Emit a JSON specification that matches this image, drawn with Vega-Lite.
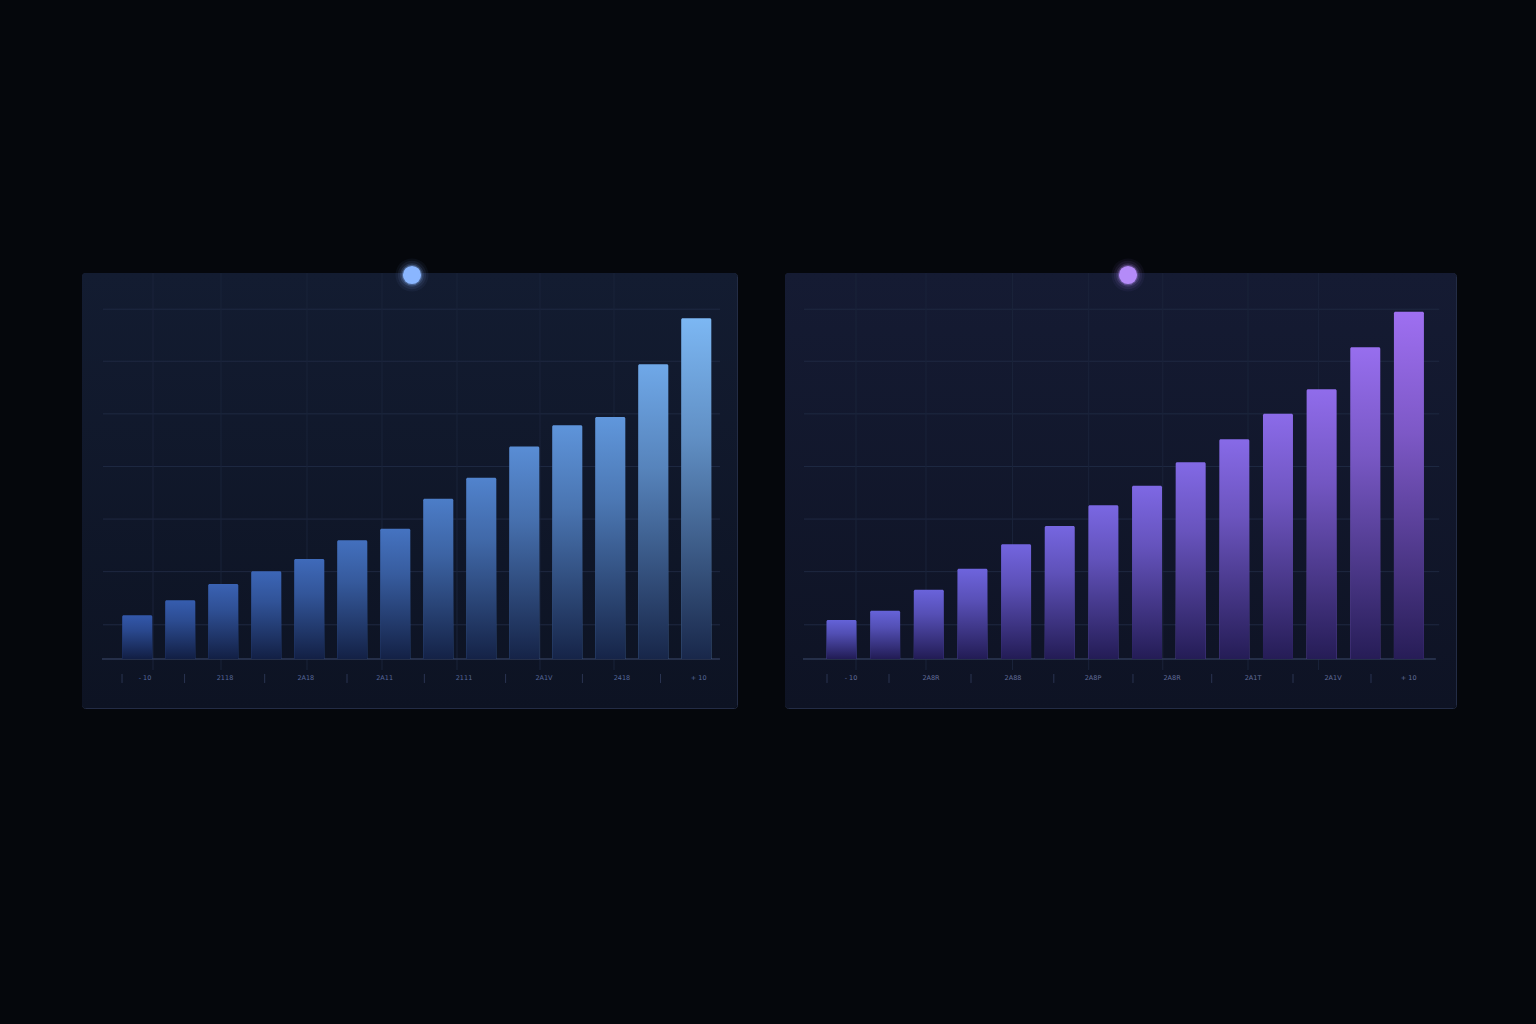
{
  "$schema": "https://vega.github.io/schema/vega-lite/v6.json",
  "background": "#05070c",
  "padding": {"left": 81, "top": 257, "right": 80, "bottom": 315},
  "spacing": 46,
  "resolve": {"scale": {"color": "independent", "x": "independent"}},
  "config": {"view": {"stroke": "#232c45", "strokeWidth": 1, "cornerRadius": 3}},
  "datasets": {
    "leftBars": [
      {"i": 1, "v": 8.31}, {"i": 2, "v": 11.16}, {"i": 3, "v": 14.26}, {"i": 4, "v": 16.67},
      {"i": 5, "v": 19.01}, {"i": 6, "v": 22.57}, {"i": 7, "v": 24.77}, {"i": 8, "v": 30.48},
      {"i": 9, "v": 34.46}, {"i": 10, "v": 40.4}, {"i": 11, "v": 44.43}, {"i": 12, "v": 46.01},
      {"i": 13, "v": 56.03}, {"i": 14, "v": 64.77}
    ],
    "rightBars": [
      {"i": 1, "v": 7.41}, {"i": 2, "v": 9.18}, {"i": 3, "v": 13.17}, {"i": 4, "v": 17.17},
      {"i": 5, "v": 21.81}, {"i": 6, "v": 25.29}, {"i": 7, "v": 29.22}, {"i": 8, "v": 32.95},
      {"i": 9, "v": 37.4}, {"i": 10, "v": 41.77}, {"i": 11, "v": 46.63}, {"i": 12, "v": 51.27},
      {"i": 13, "v": 59.26}, {"i": 14, "v": 66.03}
    ],
    "hGrid": [{"g": 6.5}, {"g": 16.6}, {"g": 26.6}, {"g": 36.6}, {"g": 46.6}, {"g": 56.6}, {"g": 66.5}],
    "leftV": [{"p": 10.84}, {"p": 21.22}, {"p": 34.35}, {"p": 45.8}, {"p": 57.25}, {"p": 69.92}, {"p": 81.22}],
    "rightV": [{"p": 10.58}, {"p": 21.01}, {"p": 33.9}, {"p": 45.26}, {"p": 56.3}, {"p": 69.0}, {"p": 79.5}],
    "leftSeps": [{"p": 6.11}, {"p": 15.66}, {"p": 27.89}, {"p": 40.46}, {"p": 52.27}, {"p": 64.67}, {"p": 76.4}, {"p": 88.32}],
    "rightSeps": [{"p": 6.26}, {"p": 15.5}, {"p": 27.72}, {"p": 40.06}, {"p": 51.86}, {"p": 63.59}, {"p": 75.71}, {"p": 87.33}],
    "leftLabels": [
      {"p": 9.62, "t": "- 10"}, {"p": 21.83, "t": "2118"}, {"p": 34.17, "t": "2A18"}, {"p": 46.2, "t": "2A11"},
      {"p": 58.32, "t": "2111"}, {"p": 70.53, "t": "2A1V"}, {"p": 82.44, "t": "2418"}, {"p": 94.15, "t": "+ 10"}
    ],
    "rightLabels": [
      {"p": 9.84, "t": "- 10"}, {"p": 21.76, "t": "2A8R"}, {"p": 33.98, "t": "2A88"}, {"p": 45.9, "t": "2A8P"},
      {"p": 57.68, "t": "2A8R"}, {"p": 69.75, "t": "2A1T"}, {"p": 81.67, "t": "2A1V"}, {"p": 92.95, "t": "+ 10"}
    ]
  },
  "hconcat": [
    {
      "width": 655,
      "height": 435,
      "resolve": {"scale": {"x": "independent"}},
      "layer": [
        {
          "data": {"values": [{"k": "panel"}]},
          "mark": {"type": "rect", "cornerRadius": 3, "color": {"gradient": "linear", "x1": 0, "y1": 0, "x2": 0, "y2": 1, "stops": [{"offset": 0, "color": "#131c31"}, {"offset": 1, "color": "#0d1323"}]}},
          "encoding": {
            "x": {"datum": 0, "type": "quantitative", "scale": {"domain": [0, 100]}, "axis": null},
            "x2": {"datum": 100},
            "y": {"datum": -9.32, "type": "quantitative", "scale": {"domain": [-9.32, 73.38], "nice": false, "zero": false}, "axis": null},
            "y2": {"datum": 73.38}
          }
        },
        {
          "data": {"name": "hGrid"},
          "mark": {"type": "rule", "color": "#1f2942", "strokeWidth": 1},
          "encoding": {
            "x": {"datum": 3.2, "type": "quantitative", "scale": {"domain": [0, 100]}, "axis": null},
            "x2": {"datum": 97.4},
            "y": {"field": "g", "type": "quantitative", "scale": {"domain": [-9.32, 73.38], "nice": false, "zero": false}, "axis": null}
          }
        },
        {
          "data": {"name": "leftV"},
          "mark": {"type": "rule", "color": "#1a233a", "strokeWidth": 1},
          "encoding": {
            "x": {"field": "p", "type": "quantitative", "scale": {"domain": [0, 100]}, "axis": null},
            "y": {"datum": -2.1, "type": "quantitative", "scale": {"domain": [-9.32, 73.38], "nice": false, "zero": false}, "axis": null},
            "y2": {"datum": 73.38}
          }
        },
        {
          "data": {"values": [{"k": "base"}]},
          "mark": {"type": "rule", "color": "#2e3856", "strokeWidth": 1.5},
          "encoding": {
            "x": {"datum": 3.05, "type": "quantitative", "scale": {"domain": [0, 100]}, "axis": null},
            "x2": {"datum": 97.4},
            "y": {"datum": 0, "type": "quantitative", "scale": {"domain": [-9.32, 73.38], "nice": false, "zero": false}, "axis": null}
          }
        },
        {
          "data": {"name": "leftSeps"},
          "mark": {"type": "rule", "color": "#2a3452", "strokeWidth": 1},
          "encoding": {
            "x": {"field": "p", "type": "quantitative", "scale": {"domain": [0, 100]}, "axis": null},
            "y": {"datum": -2.85, "type": "quantitative", "scale": {"domain": [-9.32, 73.38], "nice": false, "zero": false}, "axis": null},
            "y2": {"datum": -4.56}
          }
        },
        {
          "data": {"name": "leftLabels"},
          "mark": {"type": "text", "font": "DejaVu Sans", "fontSize": 6.5, "color": "#56679a", "baseline": "middle", "align": "center"},
          "encoding": {
            "x": {"field": "p", "type": "quantitative", "scale": {"domain": [0, 100]}, "axis": null},
            "y": {"datum": -3.61, "type": "quantitative", "scale": {"domain": [-9.32, 73.38], "nice": false, "zero": false}, "axis": null},
            "text": {"field": "t"}
          }
        },
        {
          "data": {"name": "leftBars"},
          "mark": {"type": "bar", "cornerRadiusTopLeft": 1.5, "cornerRadiusTopRight": 1.5},
          "encoding": {
            "x": {"field": "i", "type": "ordinal", "scale": {"paddingInner": 0.3, "paddingOuter": 0.766, "align": 0.61}, "axis": null},
            "y": {"field": "v", "type": "quantitative", "scale": {"domain": [-9.32, 73.38], "nice": false, "zero": false}, "axis": null},
            "y2": {"datum": 0},
            "color": {"field": "v", "type": "quantitative", "scale": {"domain": [8, 65], "range": ["#3358ab", "#7cb7f3"]}, "legend": null}
          }
        },
        {
          "data": {"name": "leftBars"},
          "mark": {"type": "bar", "cornerRadiusTopLeft": 1.5, "cornerRadiusTopRight": 1.5, "color": {"gradient": "linear", "x1": 0, "y1": 0, "x2": 0, "y2": 1, "stops": [{"offset": 0, "color": "rgba(14,24,56,0)"}, {"offset": 0.35, "color": "rgba(14,24,56,0.25)"}, {"offset": 0.7, "color": "rgba(14,24,56,0.6)"}, {"offset": 1, "color": "rgba(14,24,56,0.9)"}]}},
          "encoding": {
            "x": {"field": "i", "type": "ordinal", "scale": {"paddingInner": 0.3, "paddingOuter": 0.766, "align": 0.61}, "axis": null},
            "y": {"field": "v", "type": "quantitative", "scale": {"domain": [-9.32, 73.38], "nice": false, "zero": false}, "axis": null},
            "y2": {"datum": 0}
          }
        },
        {
          "data": {"values": [{"p": 50.38, "s": 1100, "o": 0.05}, {"p": 50.38, "s": 800, "o": 0.08}, {"p": 50.38, "s": 560, "o": 0.14}, {"p": 50.38, "s": 420, "o": 0.3}, {"p": 50.38, "s": 330, "o": 1}]},
          "mark": {"type": "point", "filled": true, "shape": "circle", "color": "#8ab6ff"},
          "encoding": {
            "x": {"field": "p", "type": "quantitative", "scale": {"domain": [0, 100]}, "axis": null},
            "y": {"datum": 73.0, "type": "quantitative", "scale": {"domain": [-9.32, 73.38], "nice": false, "zero": false}, "axis": null},
            "size": {"field": "s", "type": "quantitative", "scale": null, "legend": null},
            "opacity": {"field": "o", "type": "quantitative", "scale": null, "legend": null}
          }
        }
      ]
    },
    {
      "width": 671,
      "height": 435,
      "resolve": {"scale": {"x": "independent"}},
      "layer": [
        {
          "data": {"values": [{"k": "panel"}]},
          "mark": {"type": "rect", "cornerRadius": 3, "color": {"gradient": "linear", "x1": 0, "y1": 0, "x2": 0, "y2": 1, "stops": [{"offset": 0, "color": "#151b33"}, {"offset": 1, "color": "#0e1324"}]}},
          "encoding": {
            "x": {"datum": 0, "type": "quantitative", "scale": {"domain": [0, 100]}, "axis": null},
            "x2": {"datum": 100},
            "y": {"datum": -9.32, "type": "quantitative", "scale": {"domain": [-9.32, 73.38], "nice": false, "zero": false}, "axis": null},
            "y2": {"datum": 73.38}
          }
        },
        {
          "data": {"name": "hGrid"},
          "mark": {"type": "rule", "color": "#1f2942", "strokeWidth": 1},
          "encoding": {
            "x": {"datum": 2.83, "type": "quantitative", "scale": {"domain": [0, 100]}, "axis": null},
            "x2": {"datum": 97.5},
            "y": {"field": "g", "type": "quantitative", "scale": {"domain": [-9.32, 73.38], "nice": false, "zero": false}, "axis": null}
          }
        },
        {
          "data": {"name": "rightV"},
          "mark": {"type": "rule", "color": "#1a233a", "strokeWidth": 1},
          "encoding": {
            "x": {"field": "p", "type": "quantitative", "scale": {"domain": [0, 100]}, "axis": null},
            "y": {"datum": -2.1, "type": "quantitative", "scale": {"domain": [-9.32, 73.38], "nice": false, "zero": false}, "axis": null},
            "y2": {"datum": 73.38}
          }
        },
        {
          "data": {"values": [{"k": "base"}]},
          "mark": {"type": "rule", "color": "#2e3856", "strokeWidth": 1.5},
          "encoding": {
            "x": {"datum": 2.68, "type": "quantitative", "scale": {"domain": [0, 100]}, "axis": null},
            "x2": {"datum": 97.0},
            "y": {"datum": 0, "type": "quantitative", "scale": {"domain": [-9.32, 73.38], "nice": false, "zero": false}, "axis": null}
          }
        },
        {
          "data": {"name": "rightSeps"},
          "mark": {"type": "rule", "color": "#2a3452", "strokeWidth": 1},
          "encoding": {
            "x": {"field": "p", "type": "quantitative", "scale": {"domain": [0, 100]}, "axis": null},
            "y": {"datum": -2.85, "type": "quantitative", "scale": {"domain": [-9.32, 73.38], "nice": false, "zero": false}, "axis": null},
            "y2": {"datum": -4.56}
          }
        },
        {
          "data": {"name": "rightLabels"},
          "mark": {"type": "text", "font": "DejaVu Sans", "fontSize": 6.5, "color": "#626d9a", "baseline": "middle", "align": "center"},
          "encoding": {
            "x": {"field": "p", "type": "quantitative", "scale": {"domain": [0, 100]}, "axis": null},
            "y": {"datum": -3.61, "type": "quantitative", "scale": {"domain": [-9.32, 73.38], "nice": false, "zero": false}, "axis": null},
            "text": {"field": "t"}
          }
        },
        {
          "data": {"name": "rightBars"},
          "mark": {"type": "bar", "cornerRadiusTopLeft": 1.5, "cornerRadiusTopRight": 1.5},
          "encoding": {
            "x": {"field": "i", "type": "ordinal", "scale": {"paddingInner": 0.313, "paddingOuter": 0.843, "align": 0.564}, "axis": null},
            "y": {"field": "v", "type": "quantitative", "scale": {"domain": [-9.32, 73.38], "nice": false, "zero": false}, "axis": null},
            "y2": {"datum": 0},
            "color": {"field": "v", "type": "quantitative", "scale": {"domain": [7, 66], "range": ["#6462d8", "#9e6ff1"]}, "legend": null}
          }
        },
        {
          "data": {"name": "rightBars"},
          "mark": {"type": "bar", "cornerRadiusTopLeft": 1.5, "cornerRadiusTopRight": 1.5, "color": {"gradient": "linear", "x1": 0, "y1": 0, "x2": 0, "y2": 1, "stops": [{"offset": 0, "color": "rgba(26,20,70,0)"}, {"offset": 0.35, "color": "rgba(26,20,70,0.25)"}, {"offset": 0.7, "color": "rgba(26,20,70,0.6)"}, {"offset": 1, "color": "rgba(26,20,70,0.9)"}]}},
          "encoding": {
            "x": {"field": "i", "type": "ordinal", "scale": {"paddingInner": 0.313, "paddingOuter": 0.843, "align": 0.564}, "axis": null},
            "y": {"field": "v", "type": "quantitative", "scale": {"domain": [-9.32, 73.38], "nice": false, "zero": false}, "axis": null},
            "y2": {"datum": 0}
          }
        },
        {
          "data": {"values": [{"p": 51.12, "s": 1100, "o": 0.05}, {"p": 51.12, "s": 800, "o": 0.08}, {"p": 51.12, "s": 560, "o": 0.14}, {"p": 51.12, "s": 420, "o": 0.3}, {"p": 51.12, "s": 330, "o": 1}]},
          "mark": {"type": "point", "filled": true, "shape": "circle", "color": "#b48bf8"},
          "encoding": {
            "x": {"field": "p", "type": "quantitative", "scale": {"domain": [0, 100]}, "axis": null},
            "y": {"datum": 73.0, "type": "quantitative", "scale": {"domain": [-9.32, 73.38], "nice": false, "zero": false}, "axis": null},
            "size": {"field": "s", "type": "quantitative", "scale": null, "legend": null},
            "opacity": {"field": "o", "type": "quantitative", "scale": null, "legend": null}
          }
        }
      ]
    }
  ]
}
